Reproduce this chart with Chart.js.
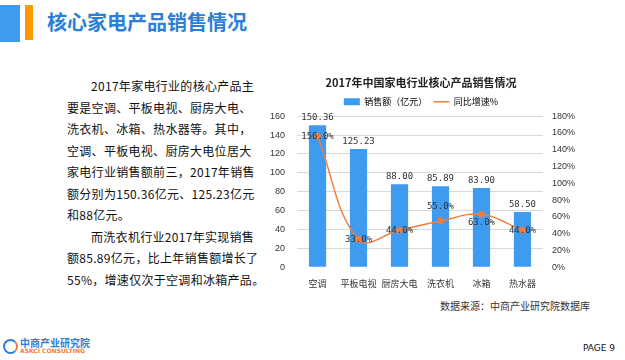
<!DOCTYPE html>
<html>
<head>
<meta charset="utf-8">
<script src="https://cdn.jsdelivr.net/npm/chart.js@4/dist/chart.umd.min.js"></script>
<style>
    body { margin: 0; width: 625px; height: 360px; background: #fff; position: relative; overflow: hidden; font-family: "Noto Sans CJK SC", sans-serif; }
    .blk-blue { position: absolute; left: 0; top: 5px; width: 20px; height: 37px; background: #3E9BF0; }
    .blk-orange { position: absolute; left: 25px; top: 5px; width: 8px; height: 35px; background: #FF9900; }
    .title { position: absolute; left: 47px; top: 8px; font-size: 20px; font-weight: bold; color: #2B7FD8; line-height: 28px; }
    .para { position: absolute; left: 67px; top: 75px; font-size: 12px; letter-spacing: 0.3px; line-height: 21.5px; color: #111; white-space: nowrap; }
    .para div.ind { padding-left: 24px; }
    .chart-box { position: absolute; left: 258px; top: 70px; width: 326px; height: 222px; }
    .source { position: absolute; left: 440px; top: 298px; font-size: 10px; color: #333; }
    .logo { position: absolute; left: 3px; top: 336px; }
    .logo .ic { position: absolute; left: 0; top: 3px; width: 11px; height: 11px; border-radius: 50%; border: 2px solid #2B7FD8; border-right-color: #F47D3A; }
    .logo .cn { position: absolute; left: 17px; top: -1px; font-size: 10px; color: #2B7FD8; font-weight: bold; white-space: nowrap; }
    .logo .en { position: absolute; left: 17px; top: 11px; font-size: 6px; color: #F47D3A; font-weight: bold; white-space: nowrap; font-family: "DejaVu Sans", sans-serif; }
    .page { position: absolute; left: 583px; top: 343px; font-size: 9px; color: #111; font-family: "DejaVu Sans", sans-serif; }
</style>
</head>
<body>
<div class="blk-blue"></div>
<div class="blk-orange"></div>
<div class="title">核心家电产品销售情况</div>
<div class="para">
    <div class="ind">2017年家电行业的核心产品主</div>
    <div>要是空调、平板电视、厨房大电、</div>
    <div>洗衣机、冰箱、热水器等。其中，</div>
    <div>空调、平板电视、厨房大电位居大</div>
    <div>家电行业销售额前三，2017年销售</div>
    <div>额分别为150.36亿元、125.23亿元</div>
    <div>和88亿元。</div>
    <div class="ind">而洗衣机行业2017年实现销售</div>
    <div>额85.89亿元，比上年销售额增长了</div>
    <div>55%，增速仅次于空调和冰箱产品。</div>
</div>
<div class="chart-box"><canvas id="salesChart"></canvas></div>
<div class="source">数据来源：中商产业研究院数据库</div>
<div class="logo"><div class="ic"></div><div class="cn">中商产业研究院</div><div class="en">ASKCI CONSULTING</div></div>
<div class="page">PAGE 9</div>

<script>
// 数据
const categories = ['空调', '平板电视', '厨房大电', '洗衣机', '冰箱', '热水器'];
const salesValues = [150.36, 125.23, 88.00, 85.89, 83.90, 58.50];
const growthValues = [156, 33, 44, 55, 63, 44];
const leftTicks = [0, 20, 40, 60, 80, 100, 120, 140, 160];
const rightTicks = [0, 20, 40, 60, 80, 100, 120, 140, 160, 180];

// 标签位置偏移 (折线)
const lineLabelShift = [0, 0, 0, -14, 8, 0];

const labelPlugin = {
    id: 'valueLabels',
    afterDatasetsDraw(chart) {
        const ctx = chart.ctx;
        ctx.save();
        ctx.font = '9px "DejaVu Sans Mono", monospace';
        ctx.fillStyle = '#333';
        ctx.textAlign = 'center';
        ctx.textBaseline = 'bottom';
        chart.getDatasetMeta(0).data.forEach((bar, i) => {
            ctx.fillText(salesValues[i].toFixed(2), bar.x, bar.y - 3);
        });
        ctx.textBaseline = 'middle';
        chart.getDatasetMeta(1).data.forEach((pt, i) => {
            ctx.fillText(growthValues[i].toFixed(1) + '%', pt.x, pt.y + lineLabelShift[i]);
        });
        ctx.restore();
    }
};

function initSalesChart() {
    const ctx = document.getElementById('salesChart').getContext('2d');

    new Chart(ctx, {
        type: 'bar',
        data: {
            labels: categories,
            datasets: [
                {
                    label: '销售额（亿元）',
                    data: salesValues,
                    backgroundColor: '#3E9BF0',
                    barPercentage: 0.42,
                    categoryPercentage: 1,
                    yAxisID: 'y',
                    order: 2
                },
                {
                    type: 'line',
                    label: '同比增速%',
                    data: growthValues,
                    borderColor: '#F47D3A',
                    backgroundColor: '#F47D3A',
                    borderWidth: 1.5,
                    pointRadius: 2.5,
                    pointStyle: 'circle',
                    tension: 0.4,
                    yAxisID: 'y1',
                    order: 1
                }
            ]
        },
        options: {
            responsive: true,
            maintainAspectRatio: false,
            animation: false,
            layout: { padding: 0 },
            plugins: {
                title: {
                    display: true,
                    text: '2017年中国家电行业核心产品销售情况',
                    color: '#222',
                    font: { size: 11, weight: 'bold', family: '"Noto Sans CJK SC"' },
                    padding: { top: 6, bottom: 2 }
                },
                legend: {
                    display: true,
                    labels: {
                        usePointStyle: true,
                        pointStyleWidth: 16,
                        boxHeight: 7,
                        padding: 6,
                        color: '#333',
                        font: { size: 9, family: '"Noto Sans CJK SC"' },
                        generateLabels: function(chart) {
                            return chart.data.datasets.map((ds, i) => ({
                                text: ds.label,
                                fillStyle: ds.backgroundColor,
                                strokeStyle: ds.type === 'line' ? ds.borderColor : ds.backgroundColor,
                                lineWidth: ds.type === 'line' ? 1.5 : 0,
                                pointStyle: ds.type === 'line' ? 'line' : 'rect',
                                datasetIndex: i
                            }));
                        }
                    }
                },
                tooltip: { enabled: false }
            },
            scales: {
                x: {
                    grid: { display: false },
                    border: { display: false },
                    ticks: { color: '#333', font: { size: 9, family: '"Noto Sans CJK SC"' }, maxRotation: 0, autoSkip: false, padding: 3 }
                },
                y: {
                    position: 'left',
                    min: 0,
                    max: 160,
                    afterBuildTicks: axis => { axis.ticks = leftTicks.map(v => ({ value: v })); },
                    grid: { color: ctx => ctx.tick && ctx.tick.value === 0 ? 'rgba(0,0,0,0)' : '#D9D9D9', drawTicks: false },
                    border: { display: false },
                    ticks: { color: '#333', font: { size: 9, family: '"Liberation Sans"' }, padding: 12 }
                },
                y1: {
                    position: 'right',
                    min: 0,
                    max: 180,
                    afterBuildTicks: axis => { axis.ticks = rightTicks.map(v => ({ value: v })); },
                    grid: { display: false, drawTicks: false },
                    border: { display: false },
                    ticks: { color: '#333', font: { size: 9, family: '"Liberation Sans"' }, padding: 9, callback: v => v + '%' }
                }
            }
        },
        plugins: [labelPlugin]
    });
}

document.addEventListener('DOMContentLoaded', initSalesChart);
</script>
</body>
</html>
